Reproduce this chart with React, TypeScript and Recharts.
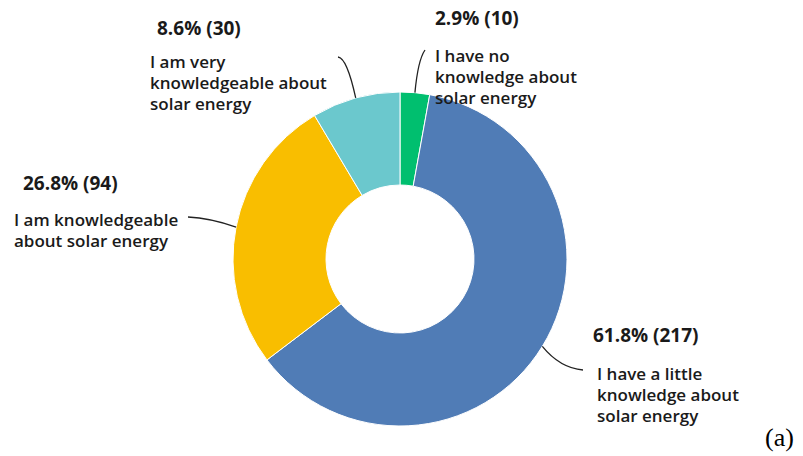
import React from "react";
import { PieChart, Pie, Cell } from "recharts";

const categories = [
  "I have no knowledge about solar energy",
  "I have a little knowledge about solar energy",
  "I am knowledgeable about solar energy",
  "I am very knowledgeable about solar energy",
];
const counts = [10, 217, 94, 30];
const percents = [2.9, 61.8, 26.8, 8.6];
const labelLines = [
  ["I have no", "knowledge about", "solar energy"],
  ["I have a little", "knowledge about", "solar energy"],
  ["I am knowledgeable", "about solar energy"],
  ["I am very", "knowledgeable about", "solar energy"],
];

const COLORS = ["#00BF6F", "#507CB6", "#F9BE00", "#6BC8CD"];

// label layout (positions/styles only)
const LAYOUT = [
  { px: 435, py: 25, dx: 435, dy: 62, end: [425, 50], ctrl: [418, 60] },
  { px: 593, py: 342, dx: 597, dy: 380, end: [583, 370], ctrl: [560, 368] },
  { px: 23, py: 190, dx: 14, dy: 226, end: [188, 217], ctrl: [210, 218] },
  { px: 157, py: 35, dx: 150, dy: 68, end: [338, 57], ctrl: [347, 58] },
];

const data = categories.map((name, i) => ({
  name,
  value: counts[i],
  pct: percents[i],
  lines: labelLines[i],
}));

const RAD = Math.PI / 180;
const FONT = "'Open Sans', 'Noto Sans', sans-serif";

const renderLabel = (props: any) => {
  const { cx, cy, midAngle, outerRadius, index, payload } = props;
  const L = LAYOUT[index];
  const sx = cx + outerRadius * Math.cos(-midAngle * RAD);
  const sy = cy + outerRadius * Math.sin(-midAngle * RAD);
  const d = `M${sx},${sy} Q${L.ctrl[0]},${L.ctrl[1]} ${L.end[0]},${L.end[1]}`;
  const p = payload && payload.pct !== undefined ? payload : data[index];
  return (
    <g key={`lbl-${index}`}>
      <path d={d} stroke="#222" strokeWidth={1.3} fill="none" />
      <text x={L.px} y={L.py} fill="#1a1a1a" fontFamily={FONT} fontSize={19} fontWeight={700}>
        {`${p.pct.toFixed(1)}% (${p.value})`}
      </text>
      <text x={L.dx} y={L.dy} fill="#1a1a1a" fontFamily={FONT} fontSize={17} fontWeight={600}>
        {p.lines.map((ln: string, j: number) => (
          <tspan key={j} x={L.dx} y={L.dy + j * 21}>
            {ln}
          </tspan>
        ))}
      </text>
    </g>
  );
};

export default function App() {
  return (
    <div style={{ position: "absolute", left: 0, top: 0, background: "#fff" }}>
      <PieChart width={803} height={456} margin={{ top: 0, right: 0, bottom: 0, left: 0 }}>
        <Pie
          data={data}
          dataKey="value"
          nameKey="name"
          cx={400}
          cy={259}
          innerRadius={74}
          outerRadius={167}
          startAngle={90}
          endAngle={-270}
          stroke="#ffffff"
          strokeWidth={1}
          label={renderLabel}
          labelLine={false}
          isAnimationActive={false}
        >
          {data.map((d, i) => (
            <Cell key={d.name} fill={COLORS[i]} />
          ))}
        </Pie>
        <text x={765} y={446} fontFamily="'Liberation Serif', 'Times New Roman', serif" fontSize={26} fill="#000">
          (a)
        </text>
      </PieChart>
    </div>
  );
}
